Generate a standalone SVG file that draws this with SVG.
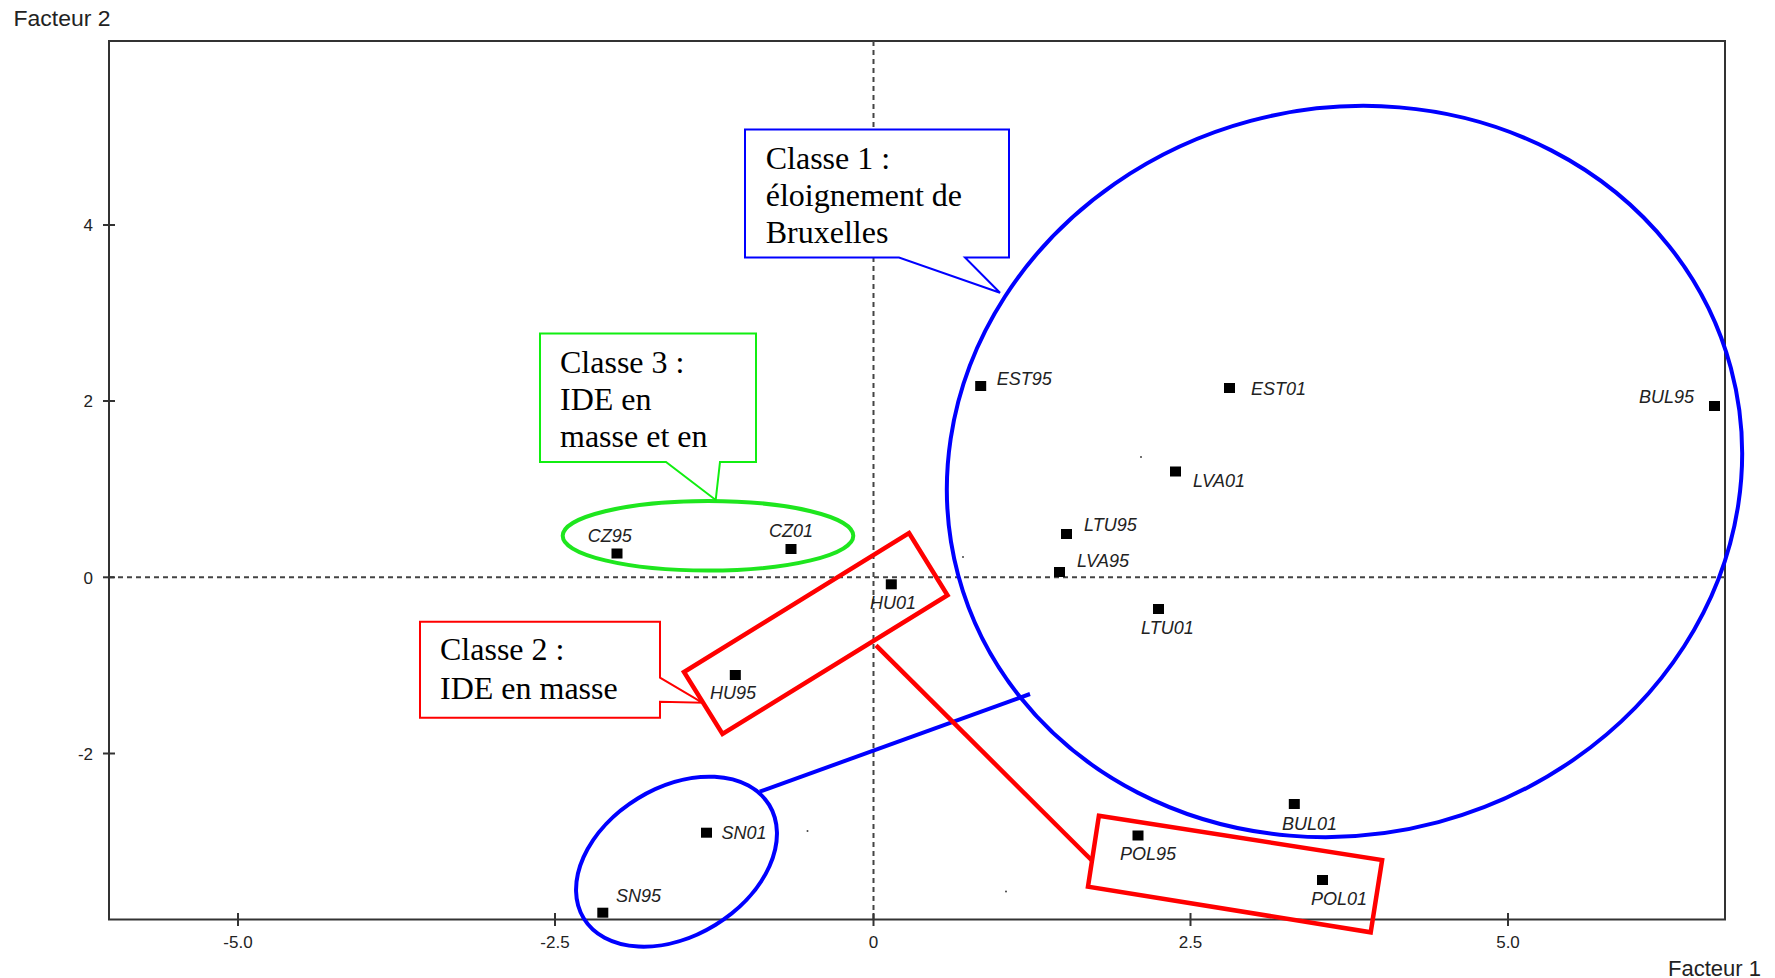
<svg xmlns="http://www.w3.org/2000/svg" width="1775" height="978" viewBox="0 0 1775 978">
<style>
.axis{fill:none;stroke:#333;stroke-width:2}
.dash{fill:none;stroke:#444;stroke-width:2;stroke-dasharray:5 4}
.tick{stroke:#333;stroke-width:2}
.ttl{font-family:"Liberation Sans",Arial,sans-serif;font-size:22px;fill:#222}
.tl{font-family:"Liberation Sans",Arial,sans-serif;font-size:17px;fill:#222}
.pl{font-family:"Liberation Sans",Arial,sans-serif;font-size:18px;font-style:italic;fill:#222}
.pt{fill:#000}
.call{font-family:"Liberation Serif","Times New Roman",serif;font-size:32px;fill:#000}
.blue{fill:none;stroke:#0000ff;stroke-width:4}
.red{fill:none;stroke:#ff0000;stroke-width:4.5}
.green{fill:none;stroke:#1ee61e;stroke-width:4}
.dot{fill:#444}
</style>
<rect x="0" y="0" width="1775" height="978" fill="#fff"/>
<g id="axes">
<rect class="axis" x="109" y="41" width="1616" height="878.5"/>
<line class="dash" x1="109" y1="577.3" x2="1725" y2="577.3"/>
<line class="dash" x1="873.5" y1="41" x2="873.5" y2="919.5"/>
<g class="tick">
<line x1="238" y1="913" x2="238" y2="926"/>
<line x1="555" y1="913" x2="555" y2="926"/>
<line x1="873.5" y1="913" x2="873.5" y2="926"/>
<line x1="1190.5" y1="913" x2="1190.5" y2="926"/>
<line x1="1508" y1="913" x2="1508" y2="926"/>
<line x1="103" y1="225" x2="115" y2="225"/>
<line x1="103" y1="401" x2="115" y2="401"/>
<line x1="103" y1="577.3" x2="115" y2="577.3"/>
<line x1="103" y1="753.5" x2="115" y2="753.5"/>
</g>
<g class="tl" text-anchor="middle">
<text x="238" y="948">-5.0</text>
<text x="555" y="948">-2.5</text>
<text x="873.5" y="948">0</text>
<text x="1190.5" y="948">2.5</text>
<text x="1508" y="948">5.0</text>
</g>
<g class="tl" text-anchor="end">
<text x="93" y="231">4</text>
<text x="93" y="407">2</text>
<text x="93" y="583.5">0</text>
<text x="93" y="759.5">-2</text>
</g>
<text class="ttl" x="13.5" y="26" textLength="97" lengthAdjust="spacingAndGlyphs">Facteur 2</text>
<text class="ttl" x="1668" y="976" textLength="93" lengthAdjust="spacingAndGlyphs">Facteur 1</text>
<circle class="dot" cx="963" cy="557" r="1"/>
<circle class="dot" cx="1141" cy="457" r="1"/>
<circle class="dot" cx="807.5" cy="831" r="1"/>
<circle class="dot" cx="1006" cy="891.5" r="1"/>
</g>
<g id="points">
<g id="EST95"><rect class="pt" x="975.2" y="381" width="11" height="10"/><text class="pl" x="996.7" y="385">EST95</text></g>
<g id="EST01"><rect class="pt" x="1224" y="383" width="11" height="10"/><text class="pl" x="1251" y="395">EST01</text></g>
<g id="BUL95"><rect class="pt" x="1709" y="401" width="11" height="10"/><text class="pl" x="1639" y="403">BUL95</text></g>
<g id="LVA01"><rect class="pt" x="1170" y="466.5" width="11" height="10"/><text class="pl" x="1193" y="487">LVA01</text></g>
<g id="LTU95"><rect class="pt" x="1061" y="529" width="11" height="10"/><text class="pl" x="1084" y="531">LTU95</text></g>
<g id="LVA95"><rect class="pt" x="1054" y="567" width="11" height="10"/><text class="pl" x="1077" y="567">LVA95</text></g>
<g id="LTU01"><rect class="pt" x="1153" y="604" width="11" height="10"/><text class="pl" x="1141" y="634">LTU01</text></g>
<g id="BUL01"><rect class="pt" x="1288.8" y="799" width="11" height="10"/><text class="pl" x="1282" y="830">BUL01</text></g>
<g id="POL95"><rect class="pt" x="1132.5" y="830.5" width="11" height="10"/><text class="pl" x="1120" y="860">POL95</text></g>
<g id="POL01"><rect class="pt" x="1317" y="875" width="11" height="10"/><text class="pl" x="1311" y="905">POL01</text></g>
<g id="CZ95"><rect class="pt" x="611.5" y="548.5" width="11" height="10"/><text class="pl" x="587.7" y="542">CZ95</text></g>
<g id="CZ01"><rect class="pt" x="785.5" y="544" width="11" height="10"/><text class="pl" x="769" y="537">CZ01</text></g>
<g id="HU01"><rect class="pt" x="885.8" y="579.3" width="11" height="10"/><text class="pl" x="870" y="609">HU01</text></g>
<g id="HU95"><rect class="pt" x="729.8" y="670" width="11" height="10"/><text class="pl" x="710" y="699">HU95</text></g>
<g id="SN01"><rect class="pt" x="701" y="827.7" width="11" height="10"/><text class="pl" x="721.5" y="839">SN01</text></g>
<g id="SN95"><rect class="pt" x="597.3" y="907.7" width="11" height="10"/><text class="pl" x="616" y="901.5">SN95</text></g>
</g>
<g id="groups">
<g id="classe1-ellipse"><ellipse class="blue" cx="1344.5" cy="471.5" rx="400" ry="363" transform="rotate(-15 1344.5 471.5)"/></g>
<g id="sn-ellipse"><ellipse class="blue" cx="676.5" cy="861.7" rx="108.7" ry="74.2" transform="rotate(-31.5 676.5 861.7)"/></g>
<g id="classe3-ellipse"><ellipse class="green" cx="708" cy="535.8" rx="145.3" ry="34.8"/></g>
<g id="hu-rect"><polygon class="red" points="909,533 947.5,595.2 722.5,734 684,672"/></g>
<g id="pol-rect"><polygon class="red" points="1098.9,815.7 1382.1,860 1370.7,932.3 1088,886.7"/></g>
</g>
<g id="connectors">
<line class="blue" x1="759.7" y1="791.7" x2="1030" y2="694"/>
<line class="red" x1="876" y1="645.3" x2="1091.4" y2="860"/>
</g>
<g id="callout-classe1">
<path d="M745,129.5 H1009 V257.5 H965 L1000,292.7 L899,257.5 H745 Z" fill="#fff" stroke="#0000ff" stroke-width="2"/>
<text class="call" x="765.7" y="169">Classe 1 :</text>
<text class="call" x="765.7" y="206">éloignement de</text>
<text class="call" x="765.7" y="242.7">Bruxelles</text>
</g>
<g id="callout-classe3">
<path d="M540,333.5 H756 V462 H720 L715.7,500 L666,462 H540 Z" fill="#fff" stroke="#11ee11" stroke-width="2"/>
<text class="call" x="560" y="373">Classe 3 :</text>
<text class="call" x="560" y="410">IDE en</text>
<text class="call" x="560" y="446.7">masse et en</text>
</g>
<g id="callout-classe2">
<path d="M420,621.7 H660 V677.7 L702.3,702.7 L660,701.7 V717.7 H420 Z" fill="#fff" stroke="#ff0000" stroke-width="2"/>
<text class="call" x="440" y="660">Classe 2 :</text>
<text class="call" x="440" y="698.5">IDE en masse</text>
</g>
</svg>
